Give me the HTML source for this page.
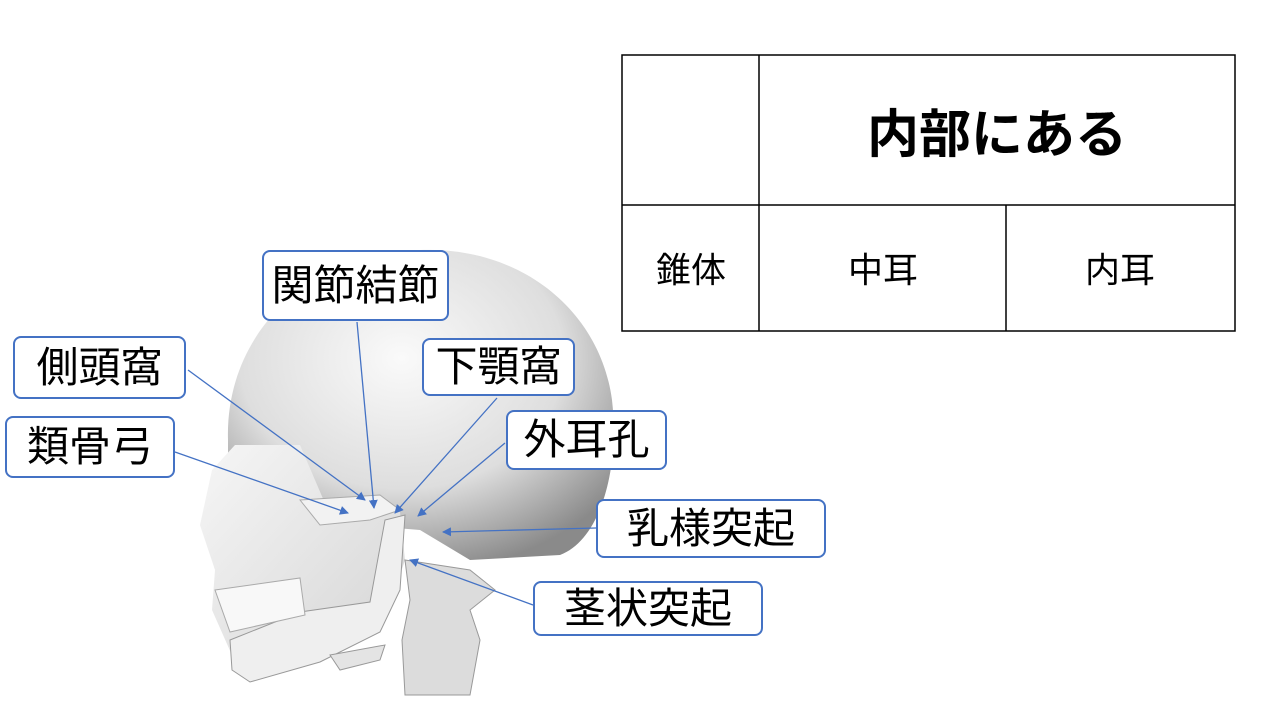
<!DOCTYPE html>
<html><head><meta charset="utf-8"><style>
html,body{margin:0;padding:0;background:#fff;}
body{width:1280px;height:720px;position:relative;overflow:hidden;font-family:"Liberation Sans","Noto Sans CJK JP",sans-serif;}
.lb{position:absolute;border:2.5px solid #4472C4;border-radius:8px;background:#fff;box-sizing:border-box;font-size:42px;color:#000;display:flex;align-items:center;justify-content:center;line-height:1;white-space:nowrap;}
.t{position:absolute;font-size:35px;color:#000;transform:translate(-50%,-50%);white-space:nowrap;}
</style></head><body>
<svg width="1280" height="720" style="position:absolute;left:0;top:0">
<defs>
<radialGradient id="g1" cx="0.45" cy="0.35" r="0.7">
<stop offset="0" stop-color="#fafafa"/><stop offset="0.6" stop-color="#dedede"/><stop offset="1" stop-color="#8a8a8a"/></radialGradient>
<linearGradient id="g2" x1="0" y1="0" x2="1" y2="1"><stop offset="0" stop-color="#f6f6f6"/><stop offset="1" stop-color="#d4d4d4"/></linearGradient>
<marker id="ar" markerWidth="9" markerHeight="9" refX="8" refY="4.5" orient="auto" markerUnits="userSpaceOnUse"><path d="M0,0 L9,4.5 L0,9 z" fill="#4472C4"/></marker>
</defs>
<path d="M228,440 C225,340 300,255 420,250 C520,246 600,310 612,400 C620,470 600,540 560,555 L470,560 L420,530 L300,520 L228,480 Z" fill="url(#g1)"/>
<path d="M235,445 L300,445 L330,515 L400,512 L405,560 L385,620 L320,650 L260,672 L235,662 L212,610 L215,570 L200,525 L212,470 Z" fill="url(#g2)"/>
<path d="M230,640 L300,612 L370,602 L385,520 L405,515 L400,590 L380,632 L320,662 L250,682 L232,670 Z" fill="#efefef" stroke="#999" stroke-width="1"/>
<path d="M215,590 L300,578 L305,615 L230,632 Z" fill="#f8f8f8" stroke="#aaa" stroke-width="1"/>
<path d="M405,560 L470,570 L495,590 L470,610 L480,640 L470,695 L405,695 L402,640 L410,600 Z" fill="#dcdcdc" stroke="#999" stroke-width="1"/>
<path d="M330,655 L385,645 L380,660 L340,670 Z" fill="#e4e4e4" stroke="#999"/>
<path d="M300,500 L380,495 L400,510 L370,520 L320,525 Z" fill="#f2f2f2" stroke="#aaa"/>
<g stroke="#4472C4" stroke-width="1.3" fill="none" marker-end="url(#ar)">
<line x1="188" y1="370" x2="365" y2="500"/>
<line x1="175" y1="452" x2="348" y2="513"/>
<line x1="357" y1="322" x2="374" y2="508"/>
<line x1="497" y1="398" x2="395" y2="513"/>
<line x1="505" y1="443" x2="418" y2="516"/>
<line x1="596" y1="528" x2="443" y2="532"/>
<line x1="533" y1="605" x2="410" y2="560"/>
</g>
<g stroke="#000" stroke-width="1.5" fill="none">
<rect x="622" y="55" width="613" height="276" fill="#fff"/>
<line x1="759" y1="55" x2="759" y2="331"/>
<line x1="622" y1="205" x2="1235" y2="205"/>
<line x1="1006" y1="205" x2="1006" y2="331"/>
</g>
</svg>
<div class="lb" style="left:262px;top:250px;width:187px;height:71px">関節結節</div>
<div class="lb" style="left:13px;top:336px;width:173px;height:63px">側頭窩</div>
<div class="lb" style="left:5px;top:416px;width:170px;height:62px">類骨弓</div>
<div class="lb" style="left:422px;top:338px;width:153px;height:58px">下顎窩</div>
<div class="lb" style="left:506px;top:410px;width:161px;height:60px">外耳孔</div>
<div class="lb" style="left:596px;top:499px;width:230px;height:59px">乳様突起</div>
<div class="lb" style="left:533px;top:581px;width:230px;height:55px">茎状突起</div>
<div class="t" style="left:997px;top:130px;font-size:52px;font-weight:bold">内部にある</div>
<div class="t" style="left:691px;top:268px">錐体</div>
<div class="t" style="left:883px;top:268px">中耳</div>
<div class="t" style="left:1120px;top:268px">内耳</div>
</body></html>
